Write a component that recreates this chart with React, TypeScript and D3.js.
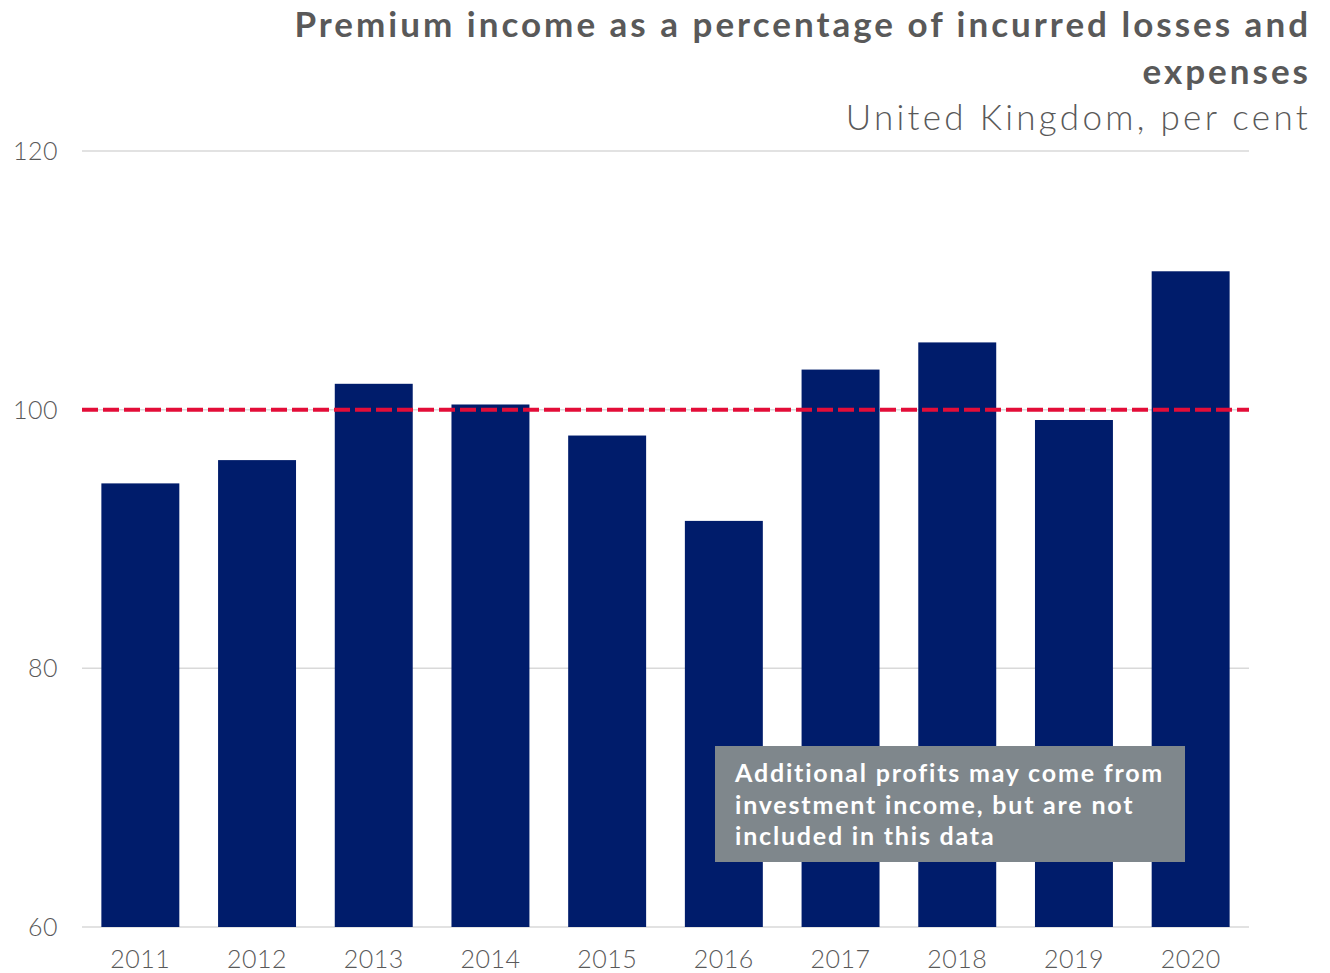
import React from "react";
import * as d3 from "d3";

const years = ["2011", "2012", "2013", "2014", "2015", "2016", "2017", "2018", "2019", "2020"];
const values = [94.3, 96.1, 102.0, 100.4, 98.0, 91.4, 103.1, 105.2, 99.2, 110.7];
const yTicks = [60, 80, 100, 120];
const threshold = 100;
const titleLines = ["Premium income as a percentage of incurred losses and", "expenses"];
const subtitle = "United Kingdom, per cent";
const noteLines = ["Additional profits may come from", "investment income, but are not", "included in this data"];

const W = 1330;
const H = 973;
const margin = { left: 82, right: 81, top: 151, bottom: 46 };
const FONT = "Lato, 'Open Sans', sans-serif";

export default function App() {
  const x = d3
    .scaleBand<string>()
    .domain(years)
    .range([margin.left, W - margin.right])
    .paddingInner(0.332)
    .paddingOuter(0.166);
  const y = d3.scaleLinear().domain([60, 120]).range([H - margin.bottom, margin.top]);
  const x0 = margin.left;
  const x1 = W - margin.right;

  return (
    <svg width={W} height={H} style={{ position: "absolute", left: 0, top: 0 }}>
      <rect width={W} height={H} fill="#ffffff" />
      {yTicks.map((t) => (
        <g key={t}>
          <line x1={x0} x2={x1} y1={y(t)} y2={y(t)} stroke="#d9d9d9" strokeWidth={1.5} />
          <text x={58} y={y(t) + 9} textAnchor="end" fontFamily={FONT} fontSize={25} fontWeight={300} fill="#595959" letterSpacing={0.5}>
            {t}
          </text>
        </g>
      ))}
      {years.map((yr, i) => (
        <rect
          key={yr}
          x={x(yr)}
          width={x.bandwidth()}
          y={y(values[i])}
          height={y(60) - y(values[i])}
          fill="#001c6b"
        />
      ))}
      {years.map((yr) => (
        <text
          key={"l" + yr}
          x={(x(yr) as number) + x.bandwidth() / 2}
          y={968}
          textAnchor="middle"
          fontFamily={FONT}
          fontSize={25}
          fontWeight={300}
          fill="#595959"
          letterSpacing={0.5}
        >
          {yr}
        </text>
      ))}
      <line
        x1={x0}
        x2={x1}
        y1={y(threshold)}
        y2={y(threshold)}
        stroke="#e30d38"
        strokeWidth={4}
        strokeDasharray="16 5"
      />
      <rect x={715} y={746} width={470} height={116} fill="#7f878c" />
      {noteLines.map((l, i) => (
        <text key={l} x={735} y={782 + i * 31.5} fontFamily={FONT} fontSize={25} fontWeight={700} fill="#ffffff" letterSpacing={1.8}>
          {l}
        </text>
      ))}
      {titleLines.map((l, i) => (
        <text key={l} x={1311} y={37 + i * 47} textAnchor="end" fontFamily={FONT} fontSize={35} fontWeight={700} fill="#595959" letterSpacing={3}>
          {l}
        </text>
      ))}
      <text x={1311} y={130} textAnchor="end" fontFamily={FONT} fontSize={35} fontWeight={300} fill="#595959" letterSpacing={3.3}>
        {subtitle}
      </text>
    </svg>
  );
}
